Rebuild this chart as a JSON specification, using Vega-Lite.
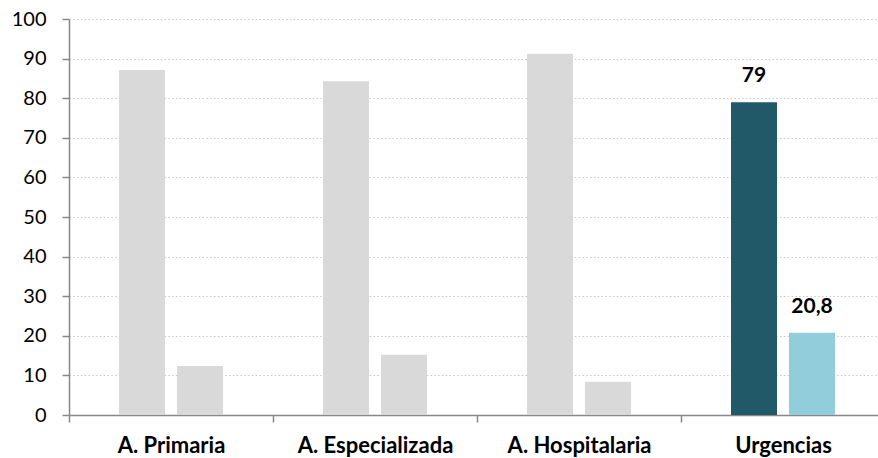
{
  "$schema": "https://vega.github.io/schema/vega-lite/v6.json",
  "width": 809,
  "height": 396,
  "autosize": {"type": "none"},
  "padding": {"left": 69, "top": 19, "right": 0, "bottom": 43},
  "config": {
    "view": {"stroke": null},
    "font": "Lato",
    "locale": {"number": {"decimal": ",", "thousands": ".", "grouping": [3], "currency": ["", " €"]}}
  },
  "data": {
    "values": [
      {"ambito": "A. Primaria", "serie": "1", "tipo": "gris", "valor": 87.1},
      {"ambito": "A. Primaria", "serie": "2", "tipo": "gris", "valor": 12.4},
      {"ambito": "A. Especializada", "serie": "1", "tipo": "gris", "valor": 84.3},
      {"ambito": "A. Especializada", "serie": "2", "tipo": "gris", "valor": 15.2},
      {"ambito": "A. Hospitalaria", "serie": "1", "tipo": "gris", "valor": 91.2},
      {"ambito": "A. Hospitalaria", "serie": "2", "tipo": "gris", "valor": 8.4},
      {"ambito": "Urgencias", "serie": "1", "tipo": "oscuro", "valor": 79},
      {"ambito": "Urgencias", "serie": "2", "tipo": "claro", "valor": 20.8}
    ]
  },
  "encoding": {
    "x": {
      "field": "ambito",
      "type": "nominal",
      "sort": null,
      "title": null,
      "scale": {"paddingInner": 0, "paddingOuter": 0, "range": [0, 816]},
      "axis": {
        "labelAngle": 0,
        "labelFontWeight": "bold",
        "labelFontSize": 22,
        "labelColor": "#000000",
        "labelPadding": 13,
        "tickBand": "extent",
        "tickSize": 7,
        "tickColor": "#888888",
        "domainColor": "#888888",
        "domainWidth": 1.5,
        "tickWidth": 1.5
      }
    },
    "xOffset": {
      "field": "serie",
      "type": "nominal",
      "scale": {"paddingInner": 0.207, "paddingOuter": 0.862}
    },
    "y": {
      "field": "valor",
      "type": "quantitative",
      "title": null,
      "scale": {"domain": [0, 100], "nice": false},
      "axis": {
        "values": [0, 10, 20, 30, 40, 50, 60, 70, 80, 90, 100],
        "labelFontSize": 20,
        "labelColor": "#000000",
        "labelPadding": 16,
        "tickSize": 7,
        "tickColor": "#888888",
        "domainColor": "#888888",
        "domainWidth": 1.5,
        "tickWidth": 1.5,
        "grid": true,
        "gridColor": "#c8c8c8",
        "gridDash": [1.5, 2.3],
        "gridWidth": 1
      }
    }
  },
  "layer": [
    {
      "mark": {"type": "bar"},
      "encoding": {
        "color": {
          "field": "tipo",
          "type": "nominal",
          "scale": {"domain": ["gris", "oscuro", "claro"], "range": ["#d9d9d9", "#215968", "#92cddc"]},
          "legend": null
        }
      }
    },
    {
      "transform": [{"filter": "datum.ambito === 'Urgencias'"}],
      "mark": {"type": "text", "dy": -26, "fontWeight": "bold", "fontSize": 21, "color": "#000000"},
      "encoding": {
        "text": {"field": "valor", "type": "quantitative", "format": ",.1~f"}
      }
    }
  ]
}
